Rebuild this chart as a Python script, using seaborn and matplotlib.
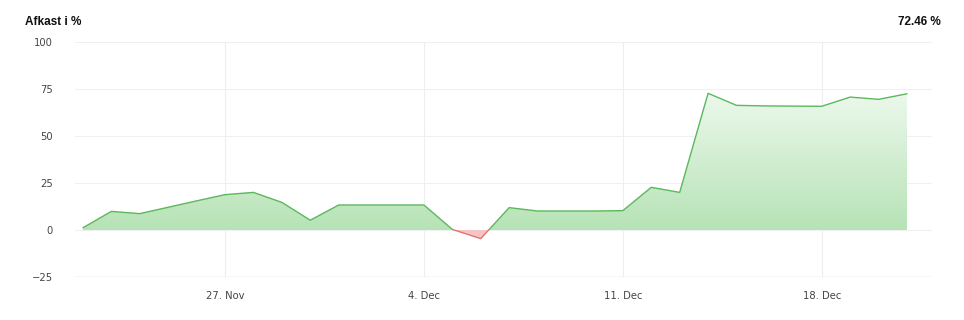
import numpy as np
import pandas as pd
import matplotlib
matplotlib.use("Agg")
import matplotlib.pyplot as plt
import matplotlib.dates as mdates
from matplotlib.patches import Rectangle
from matplotlib.path import Path
from matplotlib.colors import LinearSegmentedColormap
import seaborn as sns

# ---- data ----
dates = pd.date_range("2023-11-22", "2023-12-21", freq="D")
values = [1.2, 9.9, 8.7, 12.1, 15.5, 18.8, 20.0, 14.7, 5.2, 13.3,
          13.3, 13.3, 13.3, 0.3, -4.6, 11.9, 10.1, 10.1, 10.1, 10.3,
          22.7, 20.0, 72.7, 66.3, 66.0, 65.9, 65.8, 70.7, 69.5, 72.46]
tick_dates = pd.to_datetime(["2023-11-27", "2023-12-04", "2023-12-11", "2023-12-18"])
tick_labels = ["27. Nov", "4. Dec", "11. Dec", "18. Dec"]
y_ticks = [-25, 0, 25, 50, 75, 100]
title = "Afkast i %"
last_label = "72.46 %"

df = pd.DataFrame({"date": dates, "value": values})

sns.set_theme(style="white")
plt.rcParams["font.family"] = ["DejaVu Sans"]

fig = plt.figure(figsize=(9.64, 3.2), dpi=100)
ax = fig.add_axes([75/964, 43/320, (932-75)/964, (277-42)/320])

x = mdates.date2num(df["date"])
y = np.array(values)

# gridlines
for t in y_ticks:
    ax.axhline(t, color="#f0f0f0", lw=0.8, zorder=0)
for t in tick_dates:
    ax.axvline(mdates.date2num(t), color="#eeeeee", lw=0.8, zorder=0)
ax.axhline(-25, color="#d8dce6", lw=1.0, zorder=1)

# positive fill with gradient
poly = ax.fill_between(x, y, 0, where=y >= 0, interpolate=True,
                       facecolor="none", edgecolor="none", zorder=2)
clip = Path.make_compound_path(*poly.get_paths())
cmap = LinearSegmentedColormap.from_list("g", ["#b6e3b6", "#ecf8ec"])
grad = np.linspace(0, 1, 256).reshape(-1, 1)
img = ax.imshow(grad, cmap=cmap, origin="lower", aspect="auto",
                extent=[x.min(), x.max(), 0, y.max()], zorder=2)
img.set_clip_path(clip, transform=ax.transData)

# negative fill
ax.fill_between(x, y, 0, where=y <= 0, interpolate=True,
                facecolor="#f7c4c4", edgecolor="none", zorder=2)

# lines
sns.lineplot(data=df, x="date", y="value", ax=ax, color="#5cb85c", lw=1.0, zorder=3)
green_line = ax.lines[-1]
sns.lineplot(data=df, x="date", y="value", ax=ax, color="#e57373", lw=1.0, zorder=3)
red_line = ax.lines[-1]

xmin = x.min() - 0.28
xmax = x.max() + 0.88
ax.set_xlim(xmin, xmax)
ax.set_ylim(-25, 100)

pos_clip = Rectangle((xmin, 0), xmax - xmin, 200, transform=ax.transData)
neg_clip = Rectangle((xmin, -200), xmax - xmin, 200, transform=ax.transData)
green_line.set_clip_path(pos_clip)
red_line.set_clip_path(neg_clip)

ax.set_xticks(mdates.date2num(tick_dates))
ax.set_xticklabels(tick_labels)
ax.set_yticks(y_ticks)
ax.set_yticklabels([str(t) if t >= 0 else "\u221225" for t in y_ticks])
ax.tick_params(axis="both", length=0, labelsize=7.2, colors="#444444")
ax.tick_params(axis="y", pad=16)
ax.tick_params(axis="x", pad=10)
ax.set_xlabel("")
ax.set_ylabel("")
for s in ax.spines.values():
    s.set_visible(False)

fig.text(25/964, 1 - 22/320, title, fontsize=8.5, fontweight="bold",
         family=["Liberation Sans"], color="#111111", va="center", ha="left")
fig.text(941/964, 1 - 22/320, last_label, fontsize=8.5, fontweight="bold",
         family=["Liberation Sans"], color="#111111", va="center", ha="right")

fig.savefig("out.png", dpi=100)
